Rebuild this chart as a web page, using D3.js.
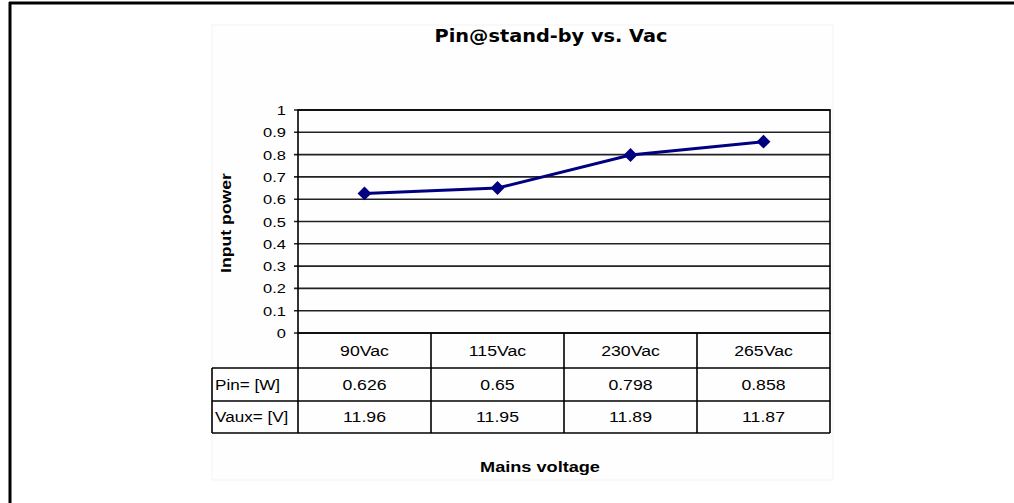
<!DOCTYPE html>
<html><head><meta charset="utf-8">
<script src="https://cdn.jsdelivr.net/npm/d3@7"></script>
<style>body{margin:0;background:#fff;overflow:hidden}svg{display:block}</style>
</head><body>
<svg id="c" width="1014" height="503"></svg>
<script>
const categories = ["90Vac", "115Vac", "230Vac", "265Vac"];
const pinValues = [0.626, 0.65, 0.798, 0.858];
const vauxValues = [11.96, 11.95, 11.89, 11.87];
const pinLabels = ["0.626", "0.65", "0.798", "0.858"];
const vauxLabels = ["11.96", "11.95", "11.89", "11.87"];
const rowLabels = ["Pin= [W]", "Vaux= [V]"];
const yTicks = [0, 0.1, 0.2, 0.3, 0.4, 0.5, 0.6, 0.7, 0.8, 0.9, 1];
const title = "Pin@stand-by vs. Vac";
const yTitle = "Input power";
const xTitle = "Mains voltage";

const svg = d3.select("#c");
const L = 298, R = 830, T = 110, B = 333;
const tableLeft = 212, rowH = [35, 33, 32];
const font = "Arial, 'Liberation Sans', sans-serif";

// helper: stretched text
function stext(g, x, y, txt, opts) {
  const sx = opts.sx || 1;
  const t = g.append("text")
    .attr("transform", `translate(${x},${y})${opts.rot ? " rotate(" + opts.rot + ")" : ""} scale(${sx},1)`)
    .attr("text-anchor", opts.anchor || "middle")
    .attr("font-family", opts.family || font)
    .attr("font-size", opts.size || 13)
    .attr("font-weight", opts.weight || "normal")
    .attr("fill", "#000")
    .text(txt);
  if (opts.fit) {
    const w = t.node().getComputedTextLength();
    t.attr("transform", `translate(${x},${y})${opts.rot ? " rotate(" + opts.rot + ")" : ""} scale(${opts.fit / w},1)`);
  }
  return t;
}

// frame
svg.append("line").attr("x1", 9).attr("x2", 1014).attr("y1", 3).attr("y2", 3).attr("stroke", "#000").attr("stroke-width", 3);
svg.append("line").attr("x1", 10).attr("x2", 10).attr("y1", 2).attr("y2", 503).attr("stroke", "#000").attr("stroke-width", 3);

// chart area faint
svg.append("rect").attr("x", 212).attr("y", 25).attr("width", 621).attr("height", 455)
  .attr("fill", "#fefefe").attr("stroke", "#f3f3f3").attr("stroke-width", 1);

const x = d3.scaleBand().domain(categories).range([L, R]);
const y = d3.scaleLinear().domain([0, 1]).range([B, T]);
const cx = c => x(c) + x.bandwidth() / 2;

// gridlines
svg.append("g").selectAll("line").data(yTicks).join("line")
  .attr("x1", L - 4).attr("x2", R).attr("y1", d => y(d)).attr("y2", d => y(d))
  .attr("stroke", "#222").attr("stroke-width", 1.6);

// y axis labels (positions from axis scale)
const yAxis = d3.axisLeft(y).tickValues(yTicks).tickSize(0).tickFormat("");
const gy = svg.append("g").attr("transform", `translate(${L},0)`).call(yAxis);
gy.select(".domain").remove();
const fmt = d => String(+d.toFixed(1));
const gyl = svg.append("g");
yTicks.forEach(v => stext(gyl, L - 12, y(v) + 5, fmt(v), { anchor: "end", size: 13.5, sx: 1.22 }));

// plot border
svg.append("rect").attr("x", L).attr("y", T).attr("width", R - L).attr("height", B - T)
  .attr("fill", "none").attr("stroke", "#000").attr("stroke-width", 1.6);

// table
const rowTops = [B, B + rowH[0], B + rowH[0] + rowH[1]];
const tableBottom = rowTops[2] + rowH[2];
const tg = svg.append("g").attr("stroke", "#000").attr("stroke-width", 1.6);
[rowTops[1], rowTops[2], tableBottom].forEach(yy =>
  tg.append("line").attr("x1", tableLeft).attr("x2", R).attr("y1", yy).attr("y2", yy));
tg.append("line").attr("x1", tableLeft).attr("x2", tableLeft).attr("y1", rowTops[1]).attr("y2", tableBottom);
const cols = categories.map(c => x(c)).concat([R]);
tg.selectAll("line.v").data(cols).join("line").attr("class", "v")
  .attr("x1", d => d).attr("x2", d => d).attr("y1", B).attr("y2", tableBottom);

const tt = svg.append("g");
const tOpt = { size: 14.5, sx: 1.22 };
categories.forEach((c, i) => {
  stext(tt, cx(c), rowTops[0] + rowH[0] / 2 + 5, c, tOpt);
  stext(tt, cx(c), rowTops[1] + rowH[1] / 2 + 5, pinLabels[i], tOpt);
  stext(tt, cx(c), rowTops[2] + rowH[2] / 2 + 5, vauxLabels[i], tOpt);
});
rowLabels.forEach((r, i) => stext(tt, tableLeft + 3, rowTops[i + 1] + rowH[i + 1] / 2 + 5, r,
  { anchor: "start", size: 14.5, sx: 1.18 }));

// line
const line = d3.line().x((d, i) => cx(categories[i])).y(d => y(d));
svg.append("path").datum(pinValues).attr("d", line).attr("fill", "none")
  .attr("stroke", "#000080").attr("stroke-width", 3);
const diamond = d3.symbol().type(d3.symbolSquare).size(96);
svg.append("g").selectAll("path").data(pinValues).join("path")
  .attr("transform", (d, i) => `translate(${cx(categories[i])},${y(d)}) rotate(45)`)
  .attr("d", diamond).attr("fill", "#000080");

// titles
stext(svg, 551, 42, title, { family: "'DejaVu Sans', Verdana, sans-serif", weight: "bold", size: 17, fit: 233 });
stext(svg, 231, 223, yTitle, { rot: -90, weight: "bold", size: 14, fit: 100 });
stext(svg, 540, 472, xTitle, { weight: "bold", size: 14, fit: 120 });
</script>
</body></html>
